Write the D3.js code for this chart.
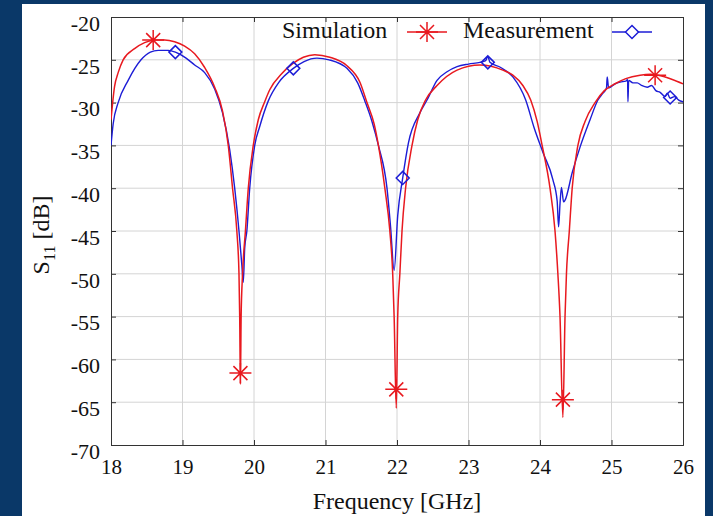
<!DOCTYPE html>
<html>
<head>
<meta charset="utf-8">
<script src="https://cdn.jsdelivr.net/npm/d3@7"></script>
<style>
  body { margin: 0; background: #0a3868; }
  svg { display: block; }
  text { font-family: "Liberation Serif", "Times New Roman", serif; fill: #111; }
</style>
</head>
<body>
<div class="canva"></div>
<script>
// ---- data ----
const xTicks = [18, 19, 20, 21, 22, 23, 24, 25, 26];
const yTicks = [-20, -25, -30, -35, -40, -45, -50, -55, -60, -65, -70];

const simFreq = [18.00, 18.05, 18.10, 18.17, 18.33, 18.47, 18.61, 18.75, 18.89, 19.03, 19.17, 19.31, 19.45, 19.56,
  19.64, 19.70, 19.76, 19.79, 19.80, 19.81, 19.82, 19.84, 19.88, 19.92, 19.99, 20.06, 20.15, 20.22, 20.39, 20.55,
  20.69, 20.85, 21.06, 21.30, 21.48, 21.58, 21.68, 21.74, 21.83, 21.90, 21.94, 21.96, 21.99, 22.01, 22.04, 22.07,
  22.12, 22.21, 22.29, 22.40, 22.56, 22.84, 23.16, 23.48, 23.62, 23.76, 23.87, 23.96, 24.03, 24.14, 24.21, 24.25,
  24.28, 24.32, 24.35, 24.37, 24.41, 24.45, 24.53, 24.63, 24.77, 24.90, 25.05, 25.20, 25.40, 25.55, 25.70, 25.85, 26.00];
const simDb = [-32.0, -28.1, -26.5, -25.0, -23.7, -23.0, -22.7, -22.7, -22.9, -23.4, -24.3, -25.9, -28.2, -31.0,
  -35.0, -40.0, -45.0, -50.0, -55.0, -62.9, -55.0, -50.0, -45.0, -40.0, -35.0, -32.0, -29.9, -28.5, -26.6, -25.4,
  -24.7, -24.4, -24.7, -25.7, -27.6, -30.0, -32.5, -35.0, -40.0, -45.0, -50.0, -55.0, -65.7, -55.0, -50.0, -45.0,
  -40.0, -35.0, -32.0, -29.7, -28.0, -26.2, -25.6, -26.2, -26.8, -28.0, -29.7, -32.2, -35.0, -40.0, -45.0, -50.0,
  -55.0, -66.8, -55.0, -50.0, -45.0, -40.0, -35.0, -32.2, -30.0, -28.6, -27.8, -27.2, -26.8, -26.7, -26.9, -27.3, -27.8];

const measFreq = [18.00, 18.03, 18.10, 18.24, 18.42, 18.55, 18.66, 18.80, 18.90, 19.05, 19.17, 19.31, 19.45, 19.56,
  19.66, 19.73, 19.79, 19.83, 19.85, 19.87, 19.90, 19.94, 20.01, 20.08, 20.20, 20.35, 20.55, 20.70, 20.88,
  21.05, 21.30, 21.45, 21.55, 21.65, 21.74, 21.86, 21.91, 21.96, 22.01, 22.08, 22.16, 22.32, 22.42, 22.56, 22.70,
  22.84, 23.00, 23.16, 23.24, 23.27, 23.30, 23.45, 23.62, 23.80, 23.92, 24.04, 24.18, 24.24, 24.26, 24.28, 24.30,
  24.33, 24.35, 24.45, 24.56, 24.70, 24.81, 24.88, 24.93, 24.94, 24.96, 25.05, 25.12, 25.20, 25.225, 25.23, 25.24,
  25.30, 25.36, 25.42, 25.50, 25.56, 25.62, 25.68, 25.75, 25.78, 25.82, 25.88, 25.94, 26.00];
const measDb = [-35.0, -32.5, -30.0, -27.4, -25.0, -24.1, -23.9, -23.9, -24.1, -24.8, -25.6, -26.5, -28.4, -31.2,
  -35.5, -40.0, -45.0, -49.0, -51.0, -47.0, -45.0, -40.0, -35.0, -32.8, -29.8, -27.6, -26.0, -25.2, -24.8,
  -25.0, -26.0, -27.7, -29.8, -32.2, -35.0, -40.0, -44.5, -49.6, -43.2, -38.8, -34.7, -31.2, -29.7, -27.4, -26.4,
  -25.8, -25.5, -25.3, -25.1, -24.6, -25.3, -25.9, -27.0, -29.7, -33.0, -35.8, -39.0, -41.5, -44.5, -41.8, -39.9,
  -41.6, -41.4, -38.2, -35.2, -32.0, -29.7, -28.9, -28.3, -27.0, -28.3, -27.8, -27.6, -27.5, -27.3, -29.9, -27.4,
  -27.7, -27.7, -28.0, -28.2, -28.0, -28.6, -28.8, -29.3, -28.9, -29.5, -29.3, -29.7, -29.9];

const simMarkFreq = [18.59, 19.81, 21.99, 24.32, 25.61];
const simMarkDb = [-22.7, -61.6, -63.5, -64.7, -26.8];
const measMarkFreq = [18.90, 20.55, 22.08, 23.27, 25.82];
const measMarkDb = [-24.1, -26.0, -38.8, -25.3, -29.4];

const seriesNames = ["Simulation", "Measurement"];
const simColor = "#e8191f";
const measColor = "#1c1cd6";

// ---- layout ----
const width = 713, height = 516;
const margin = { top: 17, right: 30, bottom: 71, left: 111 };
const graphWidth = width - margin.left - margin.right;
const graphHeight = height - margin.top - margin.bottom;

const svg = d3.select(".canva").append("svg")
    .attr("width", width)
    .attr("height", height);

svg.append("rect")
    .attr("x", 22).attr("y", 4)
    .attr("width", 683).attr("height", 512)
    .attr("fill", "white");

const graph = svg.append("g")
    .attr("transform", `translate(${margin.left}, ${margin.top})`);

const x = d3.scaleLinear().domain([18, 26]).range([0, graphWidth]);
const y = d3.scaleLinear().domain([-70, -20]).range([graphHeight, 0]);

// grid
graph.append("g")
    .selectAll("line")
    .data(xTicks.slice(1, -1))
    .enter().append("line")
    .attr("x1", d => x(d)).attr("x2", d => x(d))
    .attr("y1", 0).attr("y2", graphHeight)
    .attr("stroke", "#d4d4d4").attr("stroke-width", 1);

graph.append("g")
    .selectAll("line")
    .data(yTicks.slice(1, -1))
    .enter().append("line")
    .attr("x1", 0).attr("x2", graphWidth)
    .attr("y1", d => y(d)).attr("y2", d => y(d))
    .attr("stroke", "#d4d4d4").attr("stroke-width", 1);

// axes (inner ticks)
const xAxis = d3.axisBottom(x).tickValues(xTicks).tickSize(-5).tickPadding(14).tickFormat(d3.format("d"));
const yAxis = d3.axisLeft(y).tickValues(yTicks).tickSize(-5).tickPadding(11).tickFormat(d => d);

const xAxisGroup = graph.append("g")
    .attr("transform", `translate(0, ${graphHeight})`)
    .call(xAxis);
const yAxisGroup = graph.append("g").call(yAxis);

graph.append("g")
    .call(d3.axisTop(x).tickValues(xTicks).tickSize(-5).tickFormat(""));
graph.append("g").attr("transform", `translate(${graphWidth},0)`)
    .call(d3.axisRight(y).tickValues(yTicks).tickSize(-5).tickFormat(""));

graph.selectAll(".domain").attr("stroke", "#333");
graph.selectAll(".tick line").attr("stroke", "#333");

xAxisGroup.selectAll("text")
    .style("font-family", "Liberation Serif")
    .style("font-size", "21px")
    .attr("fill", "#111");
yAxisGroup.selectAll("text")
    .style("font-family", "Liberation Serif")
    .style("font-size", "22px")
    .attr("fill", "#111")
    .attr("dy", "0.6em");

// clip
graph.append("clipPath").attr("id", "plotClip")
    .append("rect").attr("width", graphWidth).attr("height", graphHeight);

const line = d3.line()
    .x(d => x(d[0]))
    .y(d => y(d[1]))
    .curve(d3.curveMonotoneX);

const simData = simFreq.map((f, i) => [f, simDb[i]]);
const measData = measFreq.map((f, i) => [f, measDb[i]]);

const plot = graph.append("g").attr("clip-path", "url(#plotClip)");

plot.append("path")
    .datum(measData)
    .attr("fill", "none")
    .attr("stroke", measColor)
    .attr("stroke-width", 1.4)
    .attr("stroke-linejoin", "round")
    .attr("d", line);

plot.append("path")
    .datum(simData)
    .attr("fill", "none")
    .attr("stroke", simColor)
    .attr("stroke-width", 1.5)
    .attr("d", line);

// markers
const asterisk = "M-11,0L11,0M0,-10L0,10M-7,-7L7,7M-7,7L7,-7";
const diamond = "M-6.5,0L0,-6.5L6.5,0L0,6.5Z";

graph.selectAll(".sim-mark")
    .data(simMarkFreq.map((f, i) => [f, simMarkDb[i]]))
    .enter().append("path")
    .attr("class", "sim-mark")
    .attr("transform", d => `translate(${x(d[0])}, ${y(d[1])})`)
    .attr("d", asterisk)
    .attr("fill", "none")
    .attr("stroke", simColor)
    .attr("stroke-width", 1.5);

graph.selectAll(".meas-mark")
    .data(measMarkFreq.map((f, i) => [f, measMarkDb[i]]))
    .enter().append("path")
    .attr("class", "meas-mark")
    .attr("transform", d => `translate(${x(d[0])}, ${y(d[1])})`)
    .attr("d", diamond)
    .attr("fill", "none")
    .attr("stroke", measColor)
    .attr("stroke-width", 1.5);

// legend
const legend = svg.append("g");
const legendItems = [
    { name: seriesNames[0], tx: 282, lx: 407, color: simColor, mark: asterisk },
    { name: seriesNames[1], tx: 463, lx: 612, color: measColor, mark: diamond }
];
legendItems.forEach(item => {
    legend.append("text")
        .attr("x", item.tx)
        .attr("y", 38)
        .style("font-size", "24px")
        .text(item.name);
    legend.append("line")
        .attr("x1", item.lx).attr("x2", item.lx + 40)
        .attr("y1", 32).attr("y2", 32)
        .attr("stroke", item.color).attr("stroke-width", 1.5);
    legend.append("path")
        .attr("transform", `translate(${item.lx + 20}, 32)`)
        .attr("d", item.mark)
        .attr("fill", "white")
        .attr("stroke", item.color)
        .attr("stroke-width", 1.5);
});

// axis titles
svg.append("text")
    .attr("x", 397)
    .attr("y", 509)
    .attr("text-anchor", "middle")
    .style("font-size", "24px")
    .text("Frequency [GHz]");

const yTitle = svg.append("text")
    .attr("transform", "translate(49, 235) rotate(-90)")
    .attr("text-anchor", "middle")
    .style("font-size", "24px");
yTitle.append("tspan").text("S");
yTitle.append("tspan").attr("dy", 6).style("font-size", "16px").text("11");
yTitle.append("tspan").attr("dy", -6).text(" [dB]");
</script>
</body>
</html>
